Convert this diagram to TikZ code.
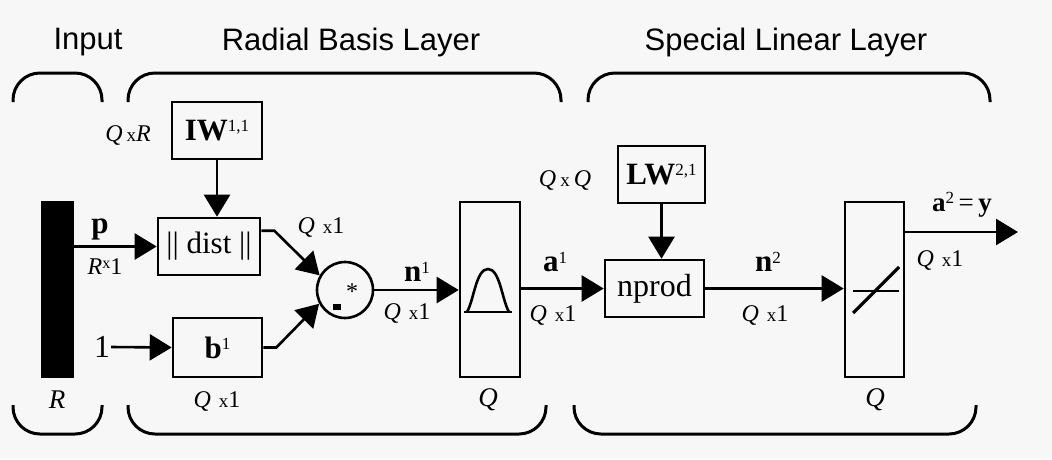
\documentclass[tikz,border=0pt]{standalone}
\usepackage{fontspec}
\setmainfont{Liberation Serif}
\setsansfont{Liberation Sans}
\usetikzlibrary{arrows.meta,calc}
\newcommand\fs[1]{\fontsize{#1}{#1}\selectfont}
\newcommand\myup[1]{\raisebox{0.28em}{\fs{17}#1}}
\newcommand\qxo{\fs{24}\textit{Q}\,\,{\fs{19}x}1}
\tikzset{
  ln/.style={line width=2.6pt},
  arr/.style={ln,-{Triangle[length=22pt,width=26pt]}},
  blk/.style={draw,line width=2.6pt,inner sep=0pt},
  title/.style={font=\sffamily\fs{31}},
  lbl/.style={inner sep=1pt},
  brace/.style={line width=3pt,rounded corners=27pt},
}
\begin{document}
\begin{tikzpicture}[x=1pt,y=-1pt]
\fill[gray!6] (0,0) rectangle (1052,459);
\useasboundingbox (0,0) rectangle (1052,459);
% titles
\node[title] (tin) at (88,42) {Input};
\node[title] (trb) at (351,42) {Radial Basis Layer};
\node[title] (tsl) at (786,42) {Special Linear Layer};
% braces
\draw[brace] (13,102) -- (13,73) -- (102,73) -- (102,102);
\draw[brace] (128,102) -- (128,73) -- (561,73) -- (561,102);
\draw[brace] (588,102) -- (588,73) -- (990,73) -- (990,102);
\draw[brace] (13,405) -- (13,434) -- (102,434) -- (102,405);
\draw[brace] (128,405) -- (128,434) -- (546,434) -- (546,405);
\draw[brace] (574,405) -- (574,434) -- (976,434) -- (976,405);
% blocks
\node[blk,fill=black,minimum width=31pt,minimum height=175pt] (bar) at (57.5,289.5) {};
\node[blk,minimum width=102pt,minimum height=57pt,font=\fs{31}] (dist) at (209,246.5) {|| dist ||};
\node[blk,minimum width=90pt,minimum height=57pt] (iw) at (217,130.5) {\fs{31}\textbf{IW}\myup{1,1}};
\node[blk,minimum width=89pt,minimum height=59pt] (b) at (217.5,347.5) {\fs{31}\textbf{b}\myup{1}};
\node[draw,circle,line width=2.6pt,minimum size=56pt,inner sep=0pt] (sum) at (345,290) {};
\node[blk,minimum width=60pt,minimum height=175pt] (rb) at (490,289.5) {};
\node[blk,minimum width=99pt,minimum height=57pt,font=\fs{32}] (np) at (654.5,288.5) {nprod};
\node[blk,minimum width=87pt,minimum height=57pt] (lw) at (661.5,174.5) {\fs{31}\textbf{LW}\myup{2,1}};
\node[blk,minimum width=59pt,minimum height=175pt] (pl) at (874.5,289.5) {};
% symbols
\draw[ln] (464,312) -- (512,312);
\draw[ln] (467,312) .. controls (474,300) and (476,269) .. (488,269) .. controls (500,269) and (502,300) .. (509,312);
\draw[line width=2pt] (853,291) -- (899,291);
\draw[line width=3.2pt] (853,313) -- (899,267);
\node[lbl] (star) at (352,292) {\fs{24}*};
\fill (333,304) rectangle (341,310);
% connectors
\node[lbl,font=\fs{32}] (one) at (102,347) {1};
\draw[arr] (bar.east |- dist.west) -- (dist.west);
\draw[arr] (iw.south) -- (iw.south |- dist.north);
\draw[arr] ([yshift=-14pt]dist.north east) -- ++(13,0) -- (sum.150);
\draw[arr] (b.east) -- ++(13,0) -- (sum.208);
\draw[arr] (one.east) -- (b.west);
\draw[arr] (sum.east) -- (sum.east -| rb.west);
\draw[arr] (rb.east |- np.west) -- (np.west);
\draw[arr] (lw.south) -- (lw.south |- np.north);
\draw[arr] (np.east) -- (np.east -| pl.west);
\coordinate (out) at (1018,232);
\draw[arr] (pl.east |- out) -- (out);
% labels
\node[lbl] (lp) at (100,229) {\fs{31}\textbf{p}};
\node[lbl] (lr1) at (105,267) {\fs{24}\textit{R}\raisebox{0.25em}{\fs{16}x}1};
\node[lbl] (lqr) at (128,135) {\fs{24}\textit{Q}\,{\fs{19}x}\textit{R}};
\node[lbl] (lq1) at (321,227) {\qxo};
\node[lbl] (ln1) at (417,272) {\fs{31}\textbf{n}\myup{1}};
\node[lbl] (lq2) at (407,313) {\qxo};
\node[lbl] (la1) at (555,262) {\fs{31}\textbf{a}\myup{1}};
\node[lbl] (lq3) at (553,315) {\qxo};
\node[lbl] (lqq) at (565,180) {\fs{24}\textit{Q}\,{\fs{19}x}\,\textit{Q}};
\node[lbl] (ln2) at (768,262) {\fs{31}\textbf{n}\myup{2}};
\node[lbl] (lq4) at (765,315) {\qxo};
\node[lbl] (la2) at (962,205) {\fs{27}\textbf{a}\myup{2}\,=\,\textbf{y}};
\node[lbl] (lq5) at (940,260) {\qxo};
\node[lbl] (lR) at (57,400) {\fs{27}\textit{R}};
\node[lbl] (lq6) at (217,401) {\qxo};
\node[lbl] (lQa) at (488,400) {\fs{27}\textit{Q}};
\node[lbl] (lQb) at (875,400) {\fs{27}\textit{Q}};
\end{tikzpicture}
\end{document}
